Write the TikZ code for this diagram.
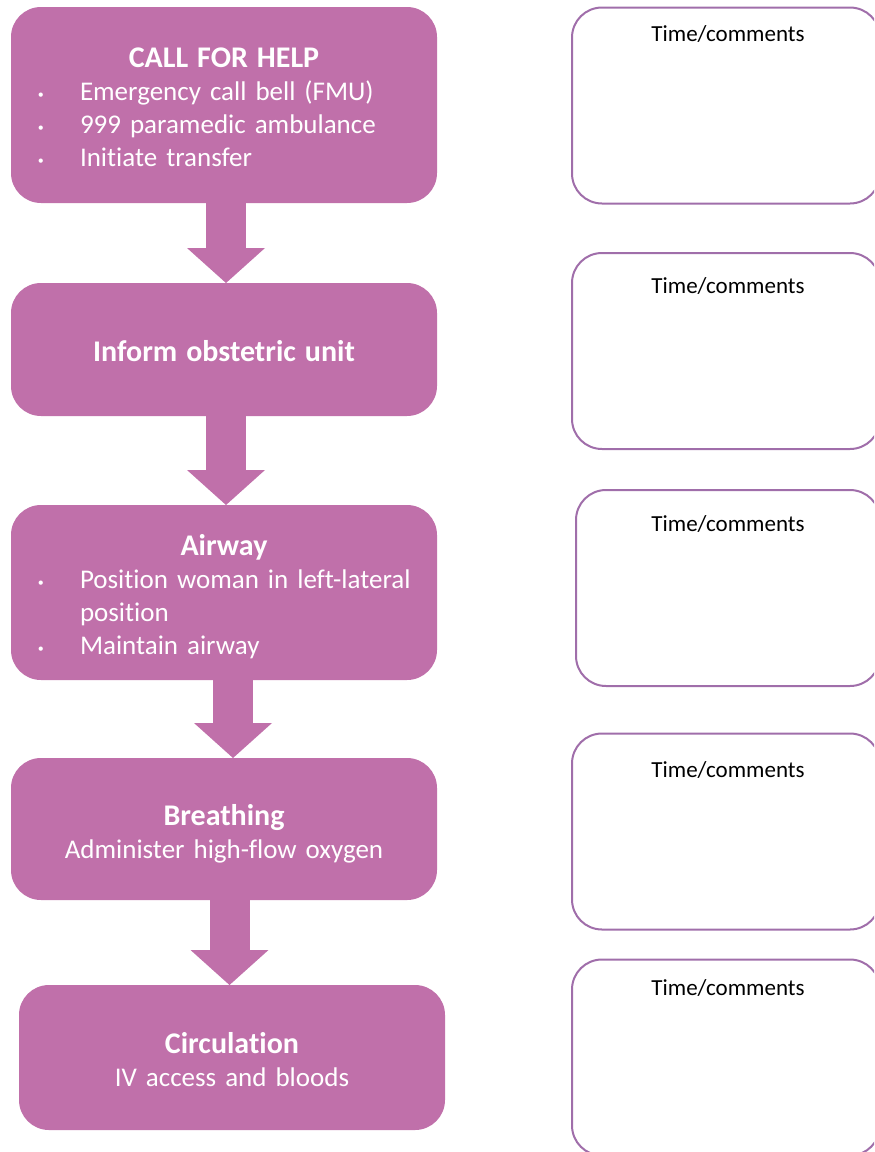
\documentclass[tikz,border=0pt]{standalone}
\usepackage{fontspec}
\setmainfont{Carlito}[Ligatures=NoCommon]
\usetikzlibrary{arrows.meta}

\definecolor{stepfill}{RGB}{192,112,170}
\definecolor{noteline}{RGB}{160,110,170}

\newcommand{\steptitle}[2][15pt]{{\centering\fontsize{15}{16}\selectfont\bfseries\rule{0pt}{#1}#2\par}}
\newcommand{\bitem}[1]{\par\hangindent=22.5pt\hangafter=1\noindent
    \makebox[22.5pt][l]{\hspace{1.5pt}\raisebox{1.2pt}{\fontsize{6}{6}\selectfont\textbullet}}#1}

\begin{document}
\begin{tikzpicture}[x=0.5pt, y=-0.5pt,
    stepbox/.style={rounded corners=15pt, fill=stepfill, text=white, outer sep=0pt,
        minimum width=213pt, text width=189pt, inner xsep=12pt, align=left,
        font=\fontsize{13.5}{16.5}\selectfont},
    flowarrow/.style={draw=stepfill, line width=20pt,
        -{Triangle[width=39pt, length=17.5pt, line width=0pt]}},
    notebox/.style={draw=noteline, line width=1pt, rounded corners=15pt,
        minimum width=154pt, minimum height=98pt},
    notetext/.style={font=\fontsize{11.5}{14}\selectfont, text=black, anchor=base}]
        \useasboundingbox (0,0) rectangle (874,1152);
        \clip (0,0) rectangle (874,1152);
        % steps
        \node [stepbox, minimum height=98pt] (help) at (224,105) {\steptitle[12pt]{CALL FOR HELP}
            \bitem{Emergency call bell (FMU)}
            \bitem{999 paramedic ambulance}
            \bitem{Initiate transfer}\par};
        \node [stepbox, minimum height=66.5pt] (obst) at (224,349.5) {\steptitle[12pt]{Inform obstetric unit}};
        \node [stepbox, minimum height=87.5pt] (air) at (224,592.5) {\steptitle{Airway}
            \bitem{Position woman in \mbox{left-lateral}\newline position}
            \bitem{Maintain airway}\par};
        \node [stepbox, minimum height=71pt] (breath) at (224,829) {\steptitle{Breathing}
            {\centering Administer high-flow oxygen\par}};
        \node [stepbox, minimum height=72.5pt] (circ) at (232,1057.5) {\steptitle[13pt]{Circulation}
            {\centering IV access and bloods\par}};
        % arrows
        \draw [flowarrow] ([xshift=1pt]help.south) -- ([xshift=1pt]obst.north);
        \draw [flowarrow] ([xshift=1pt]obst.south) -- ([xshift=1pt]air.north);
        \draw [flowarrow] ([xshift=4.5pt]air.south) -- ([xshift=4.5pt]breath.north);
        \draw [flowarrow] ([xshift=2.75pt]breath.south) -- ([xshift=-1.25pt]circ.north);
        % comment boxes
        \node [notebox] (note1) at (726,105.5) {};
        \node [notebox] (note2) at (726,351) {};
        \node [notebox, minimum width=152pt] (note3) at (728,588) {};
        \node [notebox] (note4) at (726,831.5) {};
        \node [notebox] (note5) at (726,1057.5) {};
        \node [notetext] (time1) at ([xshift=1pt,yshift=-17.5pt]note1.north) {Time/comments};
        \node [notetext] (time2) at ([xshift=1pt,yshift=-20.5pt]note2.north) {Time/comments};
        \node [notetext] (time3) at ([yshift=-21pt]note3.north) {Time/comments};
        \node [notetext] (time4) at ([xshift=1pt,yshift=-22.5pt]note4.north) {Time/comments};
        \node [notetext] (time5) at ([xshift=1pt,yshift=-18.5pt]note5.north) {Time/comments};
    \end{tikzpicture}
\end{document}
